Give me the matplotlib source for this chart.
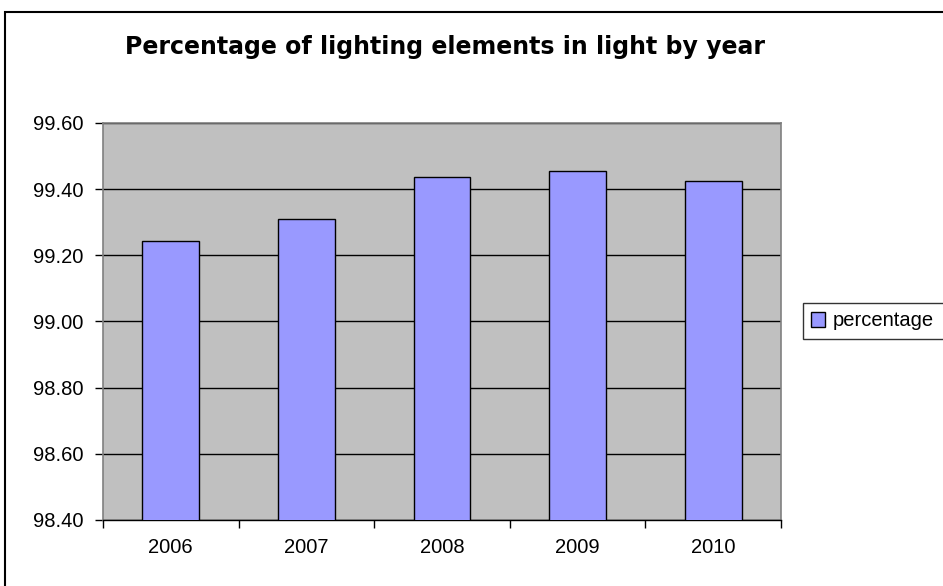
import numpy as np
import matplotlib.pyplot as plt
from matplotlib.patches import Rectangle

plt.rcParams['font.family'] = ['Liberation Sans', 'DejaVu Sans']

years = ['2006', '2007', '2008', '2009', '2010']
percentage = [99.243, 99.31, 99.436, 99.455, 99.424]
y_ticks = [98.40, 98.60, 98.80, 99.00, 99.20, 99.40, 99.60]

W, H = 943, 586
fig = plt.figure(figsize=(W / 100, H / 100), dpi=100)
fig.patch.set_facecolor('white')

# outer chart frame
fig.patches.append(Rectangle((5 / W, -0.05), 1.0, 1 - 12 / H + 0.05,
                             transform=fig.transFigure, fill=False,
                             edgecolor='black', linewidth=1.5, clip_on=False))

ax = fig.add_axes([103 / W, 1 - 520 / H, 678 / W, 397 / H])
ax.set_facecolor('#C0C0C0')

x = np.arange(len(years))
bars = ax.bar(x, percentage, width=0.42, bottom=0, color='#9999FF',
              edgecolor='black', linewidth=1.0, zorder=3, label='percentage')

ax.set_ylim(y_ticks[0], y_ticks[-1])
ax.set_xlim(-0.5, len(years) - 0.5)
ax.set_yticks(y_ticks)
ax.set_yticklabels(['%.2f' % v for v in y_ticks], fontsize=14.5)
ax.yaxis.grid(True, color='black', linewidth=1.0, zorder=1)
ax.set_axisbelow(True)

ax.set_xticks(x)
ax.set_xticklabels(years, fontsize=14.5)
ax.tick_params(axis='x', which='major', length=0, pad=13)
ax.set_xticks(np.arange(-0.5, len(years)), minor=True)
ax.tick_params(axis='x', which='minor', length=6, color='black', width=1)
ax.tick_params(axis='y', length=6, color='black', width=1, pad=8)

for side in ['top', 'right', 'left']:
    ax.spines[side].set_color('#808080')
    ax.spines[side].set_linewidth(1.2)
ax.spines['bottom'].set_color('black')
ax.spines['bottom'].set_linewidth(1.0)

fig.text(445 / W, 1 - 47 / H, 'Percentage of lighting elements in light by year',
         ha='center', va='center', fontsize=17, fontweight='bold',
         family='DejaVu Sans')

# legend box runs past the right edge of the canvas
leg = fig.legend(handles=[bars], labels=['percentage'],
                 loc='center left',
                 bbox_to_anchor=(803 / W, 1 - 341 / H, 180 / W, 40 / H),
                 mode='expand',
                 fontsize=14.5, frameon=True, fancybox=False, borderaxespad=0,
                 handlelength=0.7, handleheight=0.7, handletextpad=0.35,
                 borderpad=0.4)
leg.get_frame().set_edgecolor('black')
leg.get_frame().set_linewidth(1.0)

fig.savefig('out.png', dpi=100)
